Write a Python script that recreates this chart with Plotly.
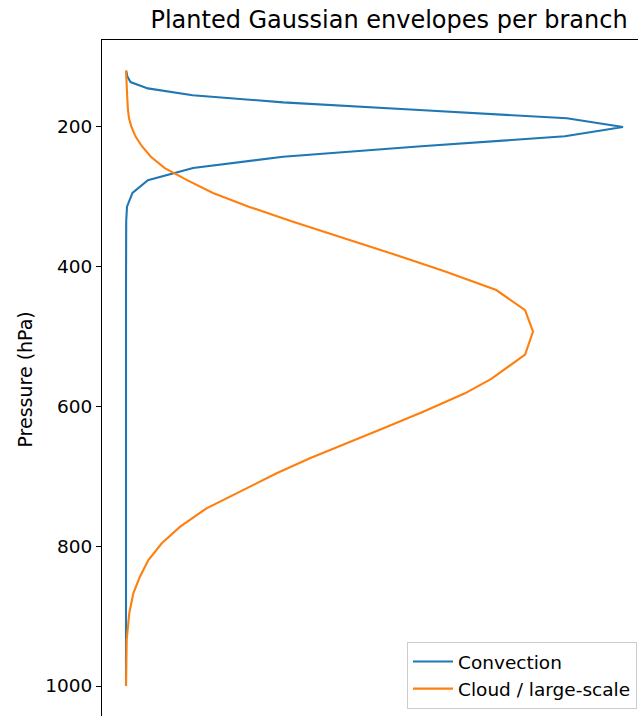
import plotly.graph_objects as go

# Pressure levels (hPa), read from the vertices / smooth trace of the curves
pressure = [120.0, 128.0, 136.5, 145.5, 155.2, 165.5, 176.4, 188.2, 200.6, 214.0,
            228.2, 243.3, 259.4, 276.7, 295.0, 314.6, 335.5, 357.7, 381.5, 406.8,
            433.8, 462.6, 493.3, 526.0, 560.9, 581.5, 607.8, 631.5, 655.4, 674.4,
            695.9, 722.2, 745.9, 772.2, 796.0, 819.8, 843.7, 867.4, 896.0, 934.2,
            968.0, 1000.0]

convection = [0.0005, 0.0025, 0.009, 0.044, 0.134, 0.316, 0.59, 0.887, 1.0, 0.883,
              0.594, 0.316, 0.135, 0.044, 0.013, 0.002, 0.0004, 0.0, 0.0, 0.0,
              0.0, 0.0, 0.0, 0.0, 0.0, 0.0, 0.0, 0.0, 0.0, 0.0,
              0.0, 0.0, 0.0, 0.0, 0.0, 0.0, 0.0, 0.0, 0.0, 0.0,
              0.0, 0.0]

cloud = [0.0, 0.0003, 0.0005, 0.001, 0.002, 0.003, 0.004, 0.006, 0.011, 0.019,
         0.032, 0.050, 0.078, 0.123, 0.175, 0.247, 0.333, 0.431, 0.534, 0.641,
         0.745, 0.803, 0.819, 0.803, 0.735, 0.682, 0.598, 0.518, 0.437, 0.370,
         0.303, 0.229, 0.162, 0.109, 0.072, 0.045, 0.028, 0.0147, 0.0066, 0.0014,
         0.0003, 0.0]

series_names = ["Convection", "Cloud / large-scale"]
colors = ["#1f77b4", "#ff7f0e"]
y_ticks = [200, 400, 600, 800, 1000]

W, H = 638, 716
L, T = 102, 40

fig = go.Figure()
for name, vals, c in zip(series_names, [convection, cloud], colors):
    fig.add_trace(go.Scatter(x=vals, y=pressure, mode="lines", name=name,
                             line=dict(color=c, width=2.1)))

font = "DejaVu Sans, sans-serif"
fig.update_layout(
    width=W, height=H,
    margin=dict(l=L, r=0, t=T, b=0, pad=0),
    plot_bgcolor="white", paper_bgcolor="white",
    font=dict(family=font, color="black", size=18.5),
    showlegend=True,
    title=dict(text="Planted Gaussian envelopes per branch", xref="paper",
               x=(389 - L) / (W - L), xanchor="center",
               yref="container", y=1 - 20 / H, yanchor="middle",
               font=dict(size=24, family=font, color="black")),
    xaxis=dict(range=[-0.0483, 1.0302], side="top", showline=True,
               linecolor="black", linewidth=1.1, ticks="", showticklabels=False,
               showgrid=False, zeroline=False),
    yaxis=dict(range=[1042.9, 76.3], showline=True, linecolor="black",
               linewidth=1.1, ticks="outside", ticklen=5, tickwidth=1.1,
               tickcolor="black", tickvals=y_ticks,
               showgrid=False, zeroline=False,
               tickfont=dict(size=18.5, family=font, color="black")),
    legend=dict(x=(637 - L) / (W - L), xanchor="right", y=7 / (H - T),
                yanchor="bottom", bgcolor="rgba(255,255,255,0.8)",
                bordercolor="#cccccc", borderwidth=1, itemwidth=40,
                tracegroupgap=0,
                font=dict(size=18.5, family=font, color="black")),
    annotations=[dict(text="Pressure (hPa)", textangle=-90, xref="paper",
                      yref="paper", x=(24 - L) / (W - L), y=(H - 379.5) / (H - T),
                      xanchor="center", yanchor="middle", showarrow=False,
                      font=dict(size=19, family=font, color="black"))],
)

fig.write_html("out.html",
               config={"displayModeBar": False},
               post_script="document.body.style.margin='0';document.body.style.overflow='hidden';")
